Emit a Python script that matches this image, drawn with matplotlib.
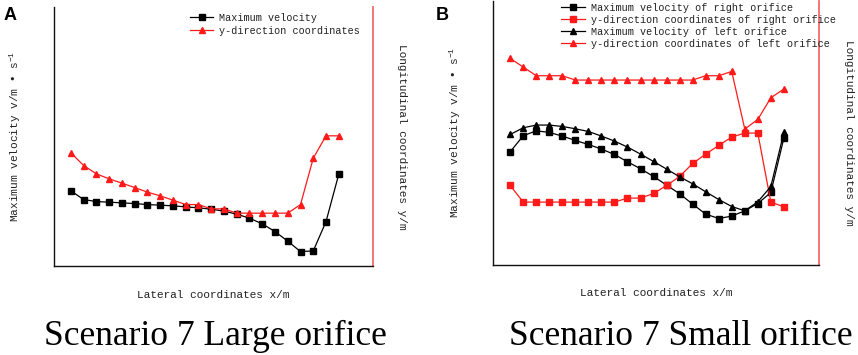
import matplotlib
matplotlib.use("Agg")
import matplotlib.pyplot as plt

# relative values (no tick labels in the original)
idx = list(range(1, 23))

# Scenario 7, large orifice
vel_a = [75, 66.3, 64.3, 63.7, 63, 62.3, 61.3, 60.7, 60, 59, 58, 56.7, 54.7,
         51.7, 47.7, 42, 34.3, 24.7, 14.3, 15, 44.3, 91.7]
ydir_a = [113, 100.3, 92, 87, 82.7, 78.3, 73.7, 70, 65.7, 61.3, 61.3, 57, 57,
          52.7, 52.7, 52.7, 52.7, 52.7, 61.3, 107.7, 130, 130]

# Scenario 7, small orifice
vel_right = [113, 129, 134, 132.3, 128.7, 124.3, 120.3, 115.7, 110.3, 103, 96,
             88.3, 79.7, 71, 60.7, 50.7, 46.3, 48.7, 54, 61.3, 72.3, 126.7]
ydir_right = [79.3, 62.7, 62.7, 62.7, 62.7, 62.7, 62.7, 62.7, 62.7, 66.7, 66.7,
              71.3, 79.3, 88.3, 101.3, 110.7, 119.3, 127.7, 131.7, 131.7, 62.7, 58]
vel_left = [130.3, 137, 139.7, 139.7, 138.3, 136, 133.3, 128.7, 123.7, 117.7,
            110.7, 103.3, 95.7, 88, 81, 73, 65.3, 58.3, 54, 63, 78.3, 132.3]
ydir_left = [206.3, 197.7, 189, 189, 189, 184.7, 184.7, 184.7, 184.7, 184.7,
             184.7, 184.7, 184.7, 184.7, 184.7, 189, 189, 193.3, 135.7, 145.3,
             167, 175.7]

mono = "Liberation Mono"
serif = "Liberation Serif"
txt = "#222222"
red = "#ff1a1a"
plt.rcParams["mathtext.default"] = "regular"

fig = plt.figure(figsize=(8.58, 3.55), dpi=100)


def style(ax, ylim, ylab_x, xlab_y, rlab_x):
    ax.set_xlim(-0.32, 24.7)
    ax.set_ylim(*ylim)
    ax.set_xticks([])
    ax.set_yticks([])
    ax.spines["top"].set_visible(False)
    ax.spines["right"].set_color("#f06a6a")
    ax.spines["right"].set_linewidth(1.3)
    for s in ("left", "bottom"):
        ax.spines[s].set_linewidth(1.0)
        ax.spines[s].set_color("#111111")
    ax.set_xlabel("Lateral coordinates x/m", family=mono, fontsize=8,
                  color=txt, va="center")
    ax.set_ylabel("Maximum velocity v/m \u2022 s$^{-1}$", family=mono,
                  fontsize=8, color=txt, va="center")
    ax.xaxis.set_label_coords(0.5, xlab_y)
    ax.yaxis.set_label_coords(ylab_x, 0.5)
    ax.text(rlab_x, 0.5, "Longitudinal coordinates y/m", transform=ax.transAxes,
            rotation=-90, ha="center", va="center", family=mono, fontsize=8,
            color=txt)


mk = dict(lw=0.9, markersize=4)

# panel A
axA = fig.add_axes([0.063, 0.251, 0.372, 0.730])
style(axA, (0, 259), -0.122, -0.112, 1.091)
axA.plot(idx, vel_a, color="black", marker="s", label="Maximum velocity", **mk)
axA.plot(idx, ydir_a, color=red, marker="^", label="y-direction coordinates", **mk)
axA.legend(loc="upper left", bbox_to_anchor=(0.41, 0.997), frameon=False,
           prop={"family": mono, "size": 7.3}, handlelength=2.3,
           handletextpad=0.6, labelspacing=0.3, borderpad=0)
for t in axA.get_legend().get_texts():
    t.set_color(txt)

# panel B
axB = fig.add_axes([0.5746, 0.254, 0.380, 0.744])
style(axB, (0, 264), -0.117, -0.106, 1.092)
axB.plot(idx, vel_right, color="black", marker="s",
         label="Maximum velocity of right orifice", **mk)
axB.plot(idx, ydir_right, color=red, marker="s",
         label="y-direction coordinates of right orifice", **mk)
axB.plot(idx, vel_left, color="black", marker="^",
         label="Maximum velocity of left orifice", **mk)
axB.plot(idx, ydir_left, color=red, marker="^",
         label="y-direction coordinates of left orifice", **mk)
axB.legend(loc="upper left", bbox_to_anchor=(0.194, 1.012), frameon=False,
           prop={"family": mono, "size": 7.3}, handlelength=2.3,
           handletextpad=0.6, labelspacing=0.2, borderpad=0)
for t in axB.get_legend().get_texts():
    t.set_color(txt)

# panel letters and captions
fig.text(0.004, 0.944, "A", family="Liberation Sans", weight="bold",
         fontsize=13, va="baseline")
fig.text(0.508, 0.944, "B", family="Liberation Sans", weight="bold",
         fontsize=13, va="baseline")
fig.text(0.251, 0.028, "Scenario 7 Large orifice", family=serif, fontsize=25.5,
         ha="center", va="baseline", color="black")
fig.text(0.793, 0.028, "Scenario 7 Small orifice", family=serif, fontsize=25.5,
         ha="center", va="baseline", color="black")

fig.savefig("out.png", dpi=100)
